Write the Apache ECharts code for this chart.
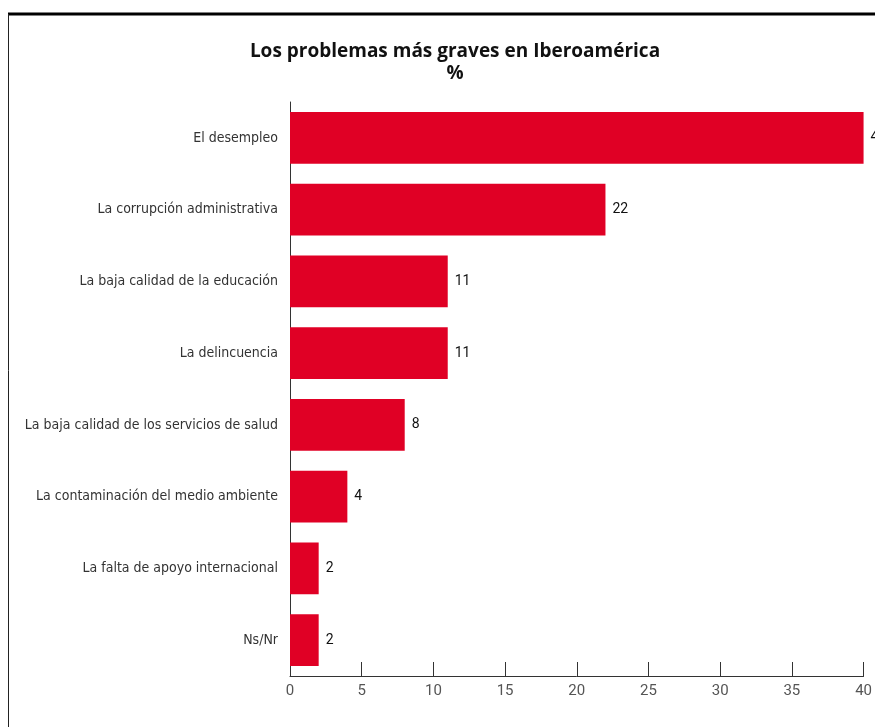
<!DOCTYPE html>
<html>
<head>
<meta charset="utf-8">
<script src="https://cdn.jsdelivr.net/npm/echarts@6/dist/echarts.min.js"></script>
<style>html,body{margin:0;padding:0;background:#fff}#c{width:875px;height:727px}</style>
</head>
<body>
<div id="c"></div>
<script>
const categories = [
  "El desempleo",
  "La corrupción administrativa",
  "La baja calidad de la educación",
  "La delincuencia",
  "La baja calidad de los servicios de salud",
  "La contaminación del medio ambiente",
  "La falta de apoyo internacional",
  "Ns/Nr"
];
const values = [40, 22, 11, 11, 8, 4, 2, 2];
const xTicks = [0, 5, 10, 15, 20, 25, 30, 35, 40];
const titleText = "Los problemas más graves en Iberoamérica";
const subText = "%";

const chart = echarts.init(document.getElementById('c'), null, {renderer: 'canvas'});
chart.setOption({
  animation: false,
  title: {
    text: titleText + "\n" + subText,
    left: 450, top: 36, textAlign: 'center',
    textStyle: {fontFamily: 'Open Sans', fontWeight: 'bold', fontSize: 19, color: '#111', lineHeight: 22}
  },
  graphic: [
    {type: 'line', shape: {x1: 8, y1: 14, x2: 875, y2: 14}, style: {stroke: '#000', lineWidth: 3}},
    {type: 'line', shape: {x1: 8.5, y1: 14, x2: 8.5, y2: 727}, style: {stroke: '#222', lineWidth: 1}}
  ],
  grid: {left: 290, right: 11, top: 102, bottom: 51, containLabel: false},
  xAxis: {
    type: 'value', min: xTicks[0], max: xTicks[xTicks.length - 1], interval: 5,
    axisLine: {show: true, lineStyle: {color: '#333', width: 1}},
    axisTick: {show: true, inside: true, length: 14, lineStyle: {color: '#333'}},
    splitLine: {show: false},
    axisLabel: {color: '#555', fontFamily: 'Roboto', fontSize: 15, margin: 8,
      formatter: v => xTicks.includes(v) ? String(v) : ''}
  },
  yAxis: {
    type: 'category', data: categories, inverse: true,
    axisLine: {show: true, lineStyle: {color: '#333', width: 1}},
    axisTick: {show: false},
    axisLabel: {color: '#333', fontFamily: "'Liberation Sans Narrow', 'DejaVu Sans Condensed', sans-serif", fontSize: 14, margin: 12}
  },
  series: [{
    type: 'bar', data: values, barCategoryGap: '28%',
    itemStyle: {color: '#e00025'},
    label: {show: true, position: 'right', distance: 7, color: '#111', fontFamily: 'Roboto', fontSize: 14}
  }]
});
</script>
</body>
</html>
